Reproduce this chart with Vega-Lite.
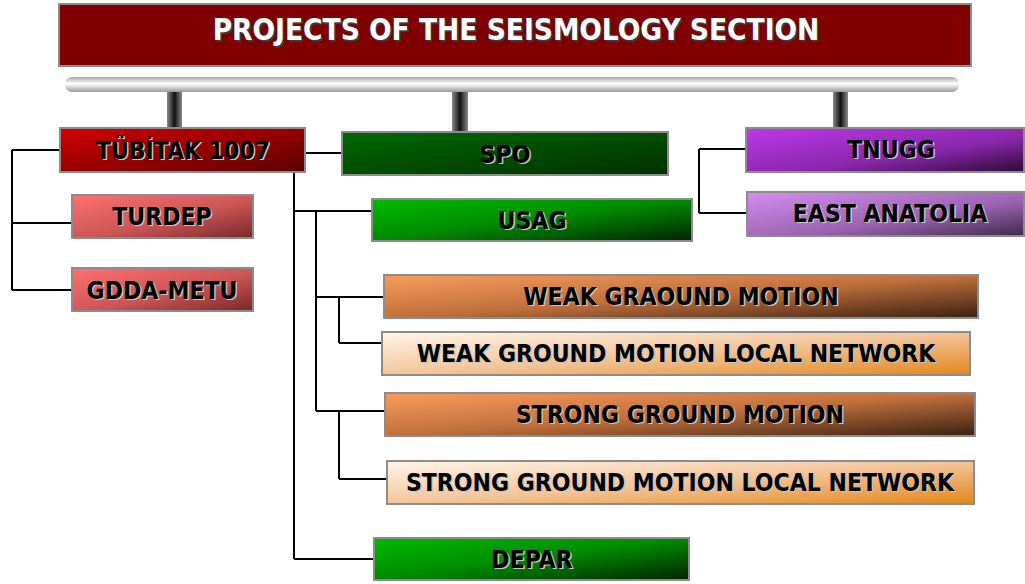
{
  "$schema": "https://vega.github.io/schema/vega-lite/v6.json",
  "autosize": {"type": "fit", "contains": "padding"},
  "width": 1025,
  "height": 584,
  "padding": 0,
  "background": "white",
  "config": {"view": {"stroke": null}},
  "datasets": {
    "boxes": [
      {"name": "PROJECTS OF THE SEISMOLOGY SECTION", "kind": "title", "x1": 59, "x2": 971, "y1": 4, "y2": 66, "cx": 516, "cy": 29},
      {"name": "TÜBİTAK 1007", "kind": "red", "x1": 60, "x2": 305, "y1": 128, "y2": 172, "cx": 183, "cy": 150},
      {"name": "SPO", "kind": "darkgreen", "x1": 342, "x2": 668, "y1": 132, "y2": 175, "cx": 505, "cy": 154},
      {"name": "TNUGG", "kind": "purple", "x1": 746, "x2": 1024, "y1": 128, "y2": 172, "cx": 891, "cy": 149},
      {"name": "EAST ANATOLIA", "kind": "lightpurple", "x1": 747, "x2": 1024, "y1": 192, "y2": 236, "cx": 890, "cy": 213},
      {"name": "TURDEP", "kind": "pink", "x1": 72, "x2": 253, "y1": 195, "y2": 238, "cx": 162, "cy": 216},
      {"name": "GDDA-METU", "kind": "pink", "x1": 72, "x2": 253, "y1": 268, "y2": 311, "cx": 162, "cy": 290},
      {"name": "USAG", "kind": "green", "x1": 372, "x2": 692, "y1": 199, "y2": 241, "cx": 532, "cy": 220},
      {"name": "WEAK GRAOUND MOTION", "kind": "orange", "x1": 384, "x2": 978, "y1": 275, "y2": 318, "cx": 681, "cy": 296},
      {"name": "WEAK GROUND MOTION LOCAL NETWORK", "kind": "cream", "x1": 382, "x2": 970, "y1": 332, "y2": 375, "cx": 676, "cy": 353},
      {"name": "STRONG GROUND MOTION", "kind": "orange", "x1": 385, "x2": 975, "y1": 393, "y2": 436, "cx": 680, "cy": 414},
      {"name": "STRONG GROUND MOTION LOCAL NETWORK", "kind": "cream", "x1": 387, "x2": 974, "y1": 461, "y2": 504, "cx": 680, "cy": 482},
      {"name": "DEPAR", "kind": "green", "x1": 374, "x2": 689, "y1": 538, "y2": 580, "cx": 532, "cy": 559}
    ],
    "lines": [
      {"x1": 12, "x2": 60, "y1": 150, "y2": 150},
      {"x1": 12, "x2": 12, "y1": 150, "y2": 290},
      {"x1": 12, "x2": 72, "y1": 223, "y2": 223},
      {"x1": 12, "x2": 72, "y1": 290, "y2": 290},
      {"x1": 294, "x2": 342, "y1": 153, "y2": 153},
      {"x1": 294, "x2": 294, "y1": 153, "y2": 559},
      {"x1": 294, "x2": 372, "y1": 211, "y2": 211},
      {"x1": 294, "x2": 374, "y1": 559, "y2": 559},
      {"x1": 316, "x2": 316, "y1": 211, "y2": 411},
      {"x1": 316, "x2": 384, "y1": 297, "y2": 297},
      {"x1": 316, "x2": 385, "y1": 411, "y2": 411},
      {"x1": 339, "x2": 339, "y1": 297, "y2": 343},
      {"x1": 339, "x2": 382, "y1": 343, "y2": 343},
      {"x1": 339, "x2": 339, "y1": 411, "y2": 479},
      {"x1": 339, "x2": 387, "y1": 479, "y2": 479},
      {"x1": 699, "x2": 699, "y1": 149, "y2": 213},
      {"x1": 699, "x2": 746, "y1": 149, "y2": 149},
      {"x1": 699, "x2": 747, "y1": 213, "y2": 213}
    ],
    "frame": [
      {"kind": "bar", "x1": 65, "x2": 959, "y1": 77, "y2": 92},
      {"kind": "post", "x1": 167, "x2": 182, "y1": 92, "y2": 127},
      {"kind": "post", "x1": 452, "x2": 468, "y1": 92, "y2": 131},
      {"kind": "post", "x1": 833, "x2": 848, "y1": 92, "y2": 128}
    ]
  },
  "layer": [
    {
      "data": {"name": "lines"},
      "mark": {"type": "rule", "color": "black", "strokeWidth": 2},
      "encoding": {
        "x": {"field": "x1", "type": "quantitative", "scale": {"domain": [0, 1025], "nice": false, "zero": false}, "axis": null},
        "x2": {"field": "x2"},
        "y": {"field": "y1", "type": "quantitative", "scale": {"domain": [0, 584], "nice": false, "zero": false, "reverse": true}, "axis": null},
        "y2": {"field": "y2"}
      }
    },
    {
      "data": {"name": "frame"},
      "transform": [{"filter": "datum.kind === 'post'"}],
      "mark": {"type": "rect", "color": {"gradient": "linear", "x1": 0, "y1": 0, "x2": 1, "y2": 0, "stops": [{"offset": 0, "color": "#8a8a8a"}, {"offset": 0.5, "color": "#111111"}, {"offset": 1, "color": "#8a8a8a"}]}},
      "encoding": {
        "x": {"field": "x1", "type": "quantitative", "scale": {"domain": [0, 1025], "nice": false, "zero": false}, "axis": null},
        "x2": {"field": "x2"},
        "y": {"field": "y1", "type": "quantitative", "scale": {"domain": [0, 584], "nice": false, "zero": false, "reverse": true}, "axis": null},
        "y2": {"field": "y2"}
      }
    },
    {
      "data": {"name": "frame"},
      "transform": [{"filter": "datum.kind === 'bar'"}],
      "mark": {"type": "rect", "cornerRadius": 7, "color": {"gradient": "linear", "x1": 0, "y1": 0, "x2": 0, "y2": 1, "stops": [{"offset": 0, "color": "#a8a8a8"}, {"offset": 0.45, "color": "#ffffff"}, {"offset": 1, "color": "#9a9a9a"}]}},
      "encoding": {
        "x": {"field": "x1", "type": "quantitative", "scale": {"domain": [0, 1025], "nice": false, "zero": false}, "axis": null},
        "x2": {"field": "x2"},
        "y": {"field": "y1", "type": "quantitative", "scale": {"domain": [0, 584], "nice": false, "zero": false, "reverse": true}, "axis": null},
        "y2": {"field": "y2"}
      }
    },
    {
      "data": {"name": "boxes"},
      "transform": [{"filter": "datum.kind === 'title'"}],
      "mark": {"type": "rect", "fill": "#800000", "stroke": "#8c8c8c", "strokeWidth": 2},
      "encoding": {
        "x": {"field": "x1", "type": "quantitative", "scale": {"domain": [0, 1025], "nice": false, "zero": false}, "axis": null},
        "x2": {"field": "x2"},
        "y": {"field": "y1", "type": "quantitative", "scale": {"domain": [0, 584], "nice": false, "zero": false, "reverse": true}, "axis": null},
        "y2": {"field": "y2"}
      }
    },
    {
      "data": {"name": "boxes"},
      "transform": [{"filter": "datum.kind === 'red'"}],
      "mark": {"type": "rect", "stroke": "#8c8c8c", "strokeWidth": 2, "fill": {"gradient": "linear", "x1": 0, "y1": 0, "x2": 1, "y2": 1, "stops": [{"offset": 0, "color": "#d40000"}, {"offset": 1, "color": "#5c0000"}]}},
      "encoding": {
        "x": {"field": "x1", "type": "quantitative", "scale": {"domain": [0, 1025], "nice": false, "zero": false}, "axis": null},
        "x2": {"field": "x2"},
        "y": {"field": "y1", "type": "quantitative", "scale": {"domain": [0, 584], "nice": false, "zero": false, "reverse": true}, "axis": null},
        "y2": {"field": "y2"}
      }
    },
    {
      "data": {"name": "boxes"},
      "transform": [{"filter": "datum.kind === 'darkgreen'"}],
      "mark": {"type": "rect", "stroke": "#8c8c8c", "strokeWidth": 2, "fill": {"gradient": "linear", "x1": 0, "y1": 0, "x2": 1, "y2": 1, "stops": [{"offset": 0, "color": "#006a00"}, {"offset": 1, "color": "#003000"}]}},
      "encoding": {
        "x": {"field": "x1", "type": "quantitative", "scale": {"domain": [0, 1025], "nice": false, "zero": false}, "axis": null},
        "x2": {"field": "x2"},
        "y": {"field": "y1", "type": "quantitative", "scale": {"domain": [0, 584], "nice": false, "zero": false, "reverse": true}, "axis": null},
        "y2": {"field": "y2"}
      }
    },
    {
      "data": {"name": "boxes"},
      "transform": [{"filter": "datum.kind === 'purple'"}],
      "mark": {"type": "rect", "stroke": "#8c8c8c", "strokeWidth": 2, "fill": {"gradient": "linear", "x1": 0, "y1": 0, "x2": 1, "y2": 1, "stops": [{"offset": 0, "color": "#be38ec"}, {"offset": 0.6, "color": "#8a27ab"}, {"offset": 1, "color": "#2c0a36"}]}},
      "encoding": {
        "x": {"field": "x1", "type": "quantitative", "scale": {"domain": [0, 1025], "nice": false, "zero": false}, "axis": null},
        "x2": {"field": "x2"},
        "y": {"field": "y1", "type": "quantitative", "scale": {"domain": [0, 584], "nice": false, "zero": false, "reverse": true}, "axis": null},
        "y2": {"field": "y2"}
      }
    },
    {
      "data": {"name": "boxes"},
      "transform": [{"filter": "datum.kind === 'lightpurple'"}],
      "mark": {"type": "rect", "stroke": "#8c8c8c", "strokeWidth": 2, "fill": {"gradient": "linear", "x1": 0, "y1": 0, "x2": 1, "y2": 1, "stops": [{"offset": 0, "color": "#d48ef0"}, {"offset": 0.6, "color": "#9a62b0"}, {"offset": 1, "color": "#3e2a48"}]}},
      "encoding": {
        "x": {"field": "x1", "type": "quantitative", "scale": {"domain": [0, 1025], "nice": false, "zero": false}, "axis": null},
        "x2": {"field": "x2"},
        "y": {"field": "y1", "type": "quantitative", "scale": {"domain": [0, 584], "nice": false, "zero": false, "reverse": true}, "axis": null},
        "y2": {"field": "y2"}
      }
    },
    {
      "data": {"name": "boxes"},
      "transform": [{"filter": "datum.kind === 'pink'"}],
      "mark": {"type": "rect", "stroke": "#8c8c8c", "strokeWidth": 2, "fill": {"gradient": "linear", "x1": 0, "y1": 0, "x2": 1, "y2": 1, "stops": [{"offset": 0, "color": "#ff7070"}, {"offset": 0.55, "color": "#cc5656"}, {"offset": 1, "color": "#7a2828"}]}},
      "encoding": {
        "x": {"field": "x1", "type": "quantitative", "scale": {"domain": [0, 1025], "nice": false, "zero": false}, "axis": null},
        "x2": {"field": "x2"},
        "y": {"field": "y1", "type": "quantitative", "scale": {"domain": [0, 584], "nice": false, "zero": false, "reverse": true}, "axis": null},
        "y2": {"field": "y2"}
      }
    },
    {
      "data": {"name": "boxes"},
      "transform": [{"filter": "datum.kind === 'green'"}],
      "mark": {"type": "rect", "stroke": "#8c8c8c", "strokeWidth": 2, "fill": {"gradient": "linear", "x1": 0, "y1": 0, "x2": 1, "y2": 1, "stops": [{"offset": 0, "color": "#00bb00"}, {"offset": 0.5, "color": "#008a00"}, {"offset": 1, "color": "#002400"}]}},
      "encoding": {
        "x": {"field": "x1", "type": "quantitative", "scale": {"domain": [0, 1025], "nice": false, "zero": false}, "axis": null},
        "x2": {"field": "x2"},
        "y": {"field": "y1", "type": "quantitative", "scale": {"domain": [0, 584], "nice": false, "zero": false, "reverse": true}, "axis": null},
        "y2": {"field": "y2"}
      }
    },
    {
      "data": {"name": "boxes"},
      "transform": [{"filter": "datum.kind === 'orange'"}],
      "mark": {"type": "rect", "stroke": "#8c8c8c", "strokeWidth": 2, "fill": {"gradient": "linear", "x1": 0, "y1": 0, "x2": 1, "y2": 1, "stops": [{"offset": 0, "color": "#fa9c5c"}, {"offset": 0.5, "color": "#c0703c"}, {"offset": 1, "color": "#3a2012"}]}},
      "encoding": {
        "x": {"field": "x1", "type": "quantitative", "scale": {"domain": [0, 1025], "nice": false, "zero": false}, "axis": null},
        "x2": {"field": "x2"},
        "y": {"field": "y1", "type": "quantitative", "scale": {"domain": [0, 584], "nice": false, "zero": false, "reverse": true}, "axis": null},
        "y2": {"field": "y2"}
      }
    },
    {
      "data": {"name": "boxes"},
      "transform": [{"filter": "datum.kind === 'cream'"}],
      "mark": {"type": "rect", "stroke": "#8c8c8c", "strokeWidth": 2, "fill": {"gradient": "linear", "x1": 0, "y1": 0, "x2": 1, "y2": 1, "stops": [{"offset": 0, "color": "#fff6ea"}, {"offset": 0.5, "color": "#f3c59a"}, {"offset": 1, "color": "#e3861a"}]}},
      "encoding": {
        "x": {"field": "x1", "type": "quantitative", "scale": {"domain": [0, 1025], "nice": false, "zero": false}, "axis": null},
        "x2": {"field": "x2"},
        "y": {"field": "y1", "type": "quantitative", "scale": {"domain": [0, 584], "nice": false, "zero": false, "reverse": true}, "axis": null},
        "y2": {"field": "y2"}
      }
    },
    {
      "data": {"name": "boxes"},
      "transform": [{"filter": "datum.kind !== 'title'"}],
      "mark": {"type": "text", "font": "DejaVu Sans Condensed", "fontWeight": "bold", "fontSize": 24.5, "align": "center", "baseline": "middle", "color": "#c8c8c8", "dx": 1.5, "dy": 3},
      "encoding": {
        "x": {"field": "cx", "type": "quantitative", "scale": {"domain": [0, 1025], "nice": false, "zero": false}, "axis": null},
        "y": {"field": "cy", "type": "quantitative", "scale": {"domain": [0, 584], "nice": false, "zero": false, "reverse": true}, "axis": null},
        "text": {"field": "name", "type": "nominal"}
      }
    },
    {
      "data": {"name": "boxes"},
      "transform": [{"filter": "datum.kind !== 'title'"}],
      "mark": {"type": "text", "font": "DejaVu Sans Condensed", "fontWeight": "bold", "fontSize": 24.5, "align": "center", "baseline": "middle", "color": "#000000", "dy": 1.5},
      "encoding": {
        "x": {"field": "cx", "type": "quantitative", "scale": {"domain": [0, 1025], "nice": false, "zero": false}, "axis": null},
        "y": {"field": "cy", "type": "quantitative", "scale": {"domain": [0, 584], "nice": false, "zero": false, "reverse": true}, "axis": null},
        "text": {"field": "name", "type": "nominal"}
      }
    },
    {
      "data": {"name": "boxes"},
      "transform": [{"filter": "datum.kind === 'title'"}],
      "mark": {"type": "text", "font": "DejaVu Sans Condensed", "fontWeight": "bold", "fontSize": 29.5, "align": "center", "baseline": "middle", "color": "#3a3a3a", "dx": 2, "dy": 4},
      "encoding": {
        "x": {"field": "cx", "type": "quantitative", "scale": {"domain": [0, 1025], "nice": false, "zero": false}, "axis": null},
        "y": {"field": "cy", "type": "quantitative", "scale": {"domain": [0, 584], "nice": false, "zero": false, "reverse": true}, "axis": null},
        "text": {"field": "name", "type": "nominal"}
      }
    },
    {
      "data": {"name": "boxes"},
      "transform": [{"filter": "datum.kind === 'title'"}],
      "mark": {"type": "text", "font": "DejaVu Sans Condensed", "fontWeight": "bold", "fontSize": 29.5, "align": "center", "baseline": "middle", "color": "#ffffff", "dy": 2},
      "encoding": {
        "x": {"field": "cx", "type": "quantitative", "scale": {"domain": [0, 1025], "nice": false, "zero": false}, "axis": null},
        "y": {"field": "cy", "type": "quantitative", "scale": {"domain": [0, 584], "nice": false, "zero": false, "reverse": true}, "axis": null},
        "text": {"field": "name", "type": "nominal"}
      }
    }
  ]
}
